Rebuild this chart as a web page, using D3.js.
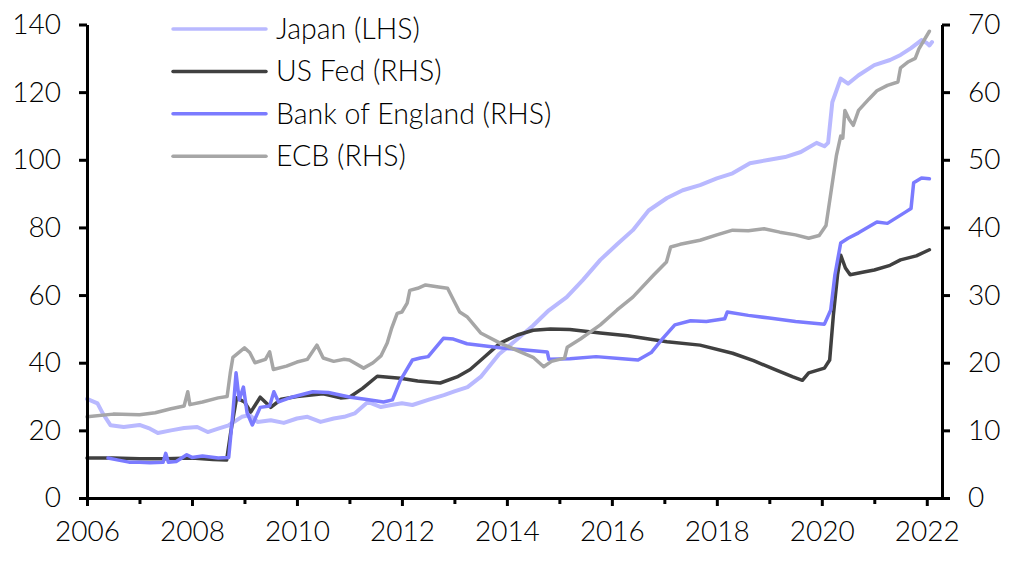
<!DOCTYPE html>
<html>
<head>
<meta charset="utf-8">
<script src="https://cdn.jsdelivr.net/npm/d3@7"></script>
<style>
  html, body { margin: 0; padding: 0; background: #fff; }
  svg { display: block; }
  text { font-family: Lato, "Open Sans", sans-serif; font-weight: 300; fill: #000; }
</style>
</head>
<body>
<svg id="chart" width="1024" height="567"></svg>
<script>
// ---- data (decimal year, value) ----
const seriesNames = ["Japan (LHS)", "US Fed (RHS)", "Bank of England (RHS)", "ECB (RHS)"];
const leftTicks = [0, 20, 40, 60, 80, 100, 120, 140];
const rightTicks = [0, 10, 20, 30, 40, 50, 60, 70];
const yearTicks = [2006,2007,2008,2009,2010,2011,2012,2013,2014,2015,2016,2017,2018,2019,2020,2021,2022];

const japan = [
[2006.0,29.3],[2006.2,28],[2006.3,25],[2006.45,21.5],[2006.7,21],[2007.0,21.6],[2007.2,20.5],[2007.35,19.2],
[2007.6,20],[2007.85,20.7],[2008.1,21],[2008.3,19.5],[2008.5,20.5],[2008.7,21.5],[2008.95,24],[2009.1,24.5],
[2009.25,22.5],[2009.5,23],[2009.75,22.2],[2010.0,23.5],[2010.2,24],[2010.45,22.5],[2010.7,23.5],[2010.9,24],
[2011.1,25],[2011.35,28.4],[2011.6,26.9],[2011.8,27.5],[2012.0,28],[2012.2,27.5],[2012.5,29],[2012.8,30.4],
[2013.0,31.5],[2013.25,32.8],[2013.5,35.8],[2013.85,42.5],[2014.2,47],[2014.5,51],[2014.8,55.5],[2015.14,59.4],
[2015.45,64.5],[2015.78,70.4],[2016.1,75],[2016.4,79.2],[2016.7,85],[2017.05,88.7],[2017.35,91],[2017.68,92.5],
[2018.0,94.5],[2018.3,96],[2018.63,99],[2019.0,100],[2019.3,100.8],[2019.6,102.3],[2019.9,105],[2020.05,104],
[2020.12,105],[2020.2,117],[2020.36,124],[2020.5,122.5],[2020.7,125],[2021.0,128],[2021.3,129.5],[2021.5,131],
[2021.7,133],[2021.9,135.4],[2022.0,134.5],[2022.05,133.8],[2022.1,134.8]
];
const fed = [
[2006.0,5.9],[2006.5,5.9],[2007.0,5.8],[2007.5,5.8],[2008.0,5.9],[2008.4,5.7],[2008.66,5.6],[2008.74,9.8],
[2008.85,14.8],[2009.0,14.2],[2009.12,12.7],[2009.3,14.9],[2009.5,13.4],[2009.7,14.6],[2010.0,15],[2010.5,15.4],
[2010.83,14.8],[2011.0,14.9],[2011.25,16.2],[2011.53,18],[2011.97,17.7],[2012.3,17.3],[2012.73,17],[2013.05,17.9],
[2013.3,19],[2013.55,20.7],[2013.87,22.9],[2014.2,24.1],[2014.5,24.8],[2014.83,25],[2015.2,24.9],[2015.78,24.4],
[2016.3,24],[2017.05,23.1],[2017.68,22.6],[2018.3,21.4],[2018.7,20.3],[2019.1,19],[2019.45,17.9],[2019.63,17.4],
[2019.75,18.5],[2020.05,19.2],[2020.15,20.4],[2020.22,27],[2020.3,33],[2020.36,35.9],[2020.45,34],[2020.54,33],
[2020.8,33.4],[2021.0,33.7],[2021.3,34.4],[2021.5,35.2],[2021.8,35.8],[2022.05,36.7]
];
const boe = [
[2006.4,5.9],[2006.6,5.6],[2006.8,5.3],[2007.0,5.3],[2007.2,5.2],[2007.45,5.3],[2007.5,6.6],[2007.55,5.3],
[2007.7,5.4],[2007.9,6.4],[2008.0,6],[2008.2,6.2],[2008.5,5.9],[2008.7,6],[2008.78,12.6],[2008.84,18.5],
[2008.9,14.5],[2008.98,16.4],[2009.05,12.6],[2009.15,10.8],[2009.3,13.4],[2009.48,13.6],[2009.56,15.7],[2009.65,14.2],
[2009.9,14.9],[2010.3,15.7],[2010.6,15.6],[2011.02,14.9],[2011.3,14.6],[2011.65,14.2],[2011.82,14.5],[2011.97,17.4],
[2012.2,20.4],[2012.35,20.7],[2012.5,20.9],[2012.79,23.6],[2012.98,23.5],[2013.24,22.8],[2013.87,22.2],[2014.3,21.9],
[2014.77,21.6],[2014.8,20.5],[2015.2,20.6],[2015.7,20.9],[2016.2,20.6],[2016.5,20.4],[2016.75,21.5],[2016.95,23.4],
[2017.2,25.6],[2017.5,26.2],[2017.8,26.1],[2018.15,26.5],[2018.2,27.5],[2018.6,27],[2019.0,26.6],[2019.5,26.1],
[2019.9,25.8],[2020.05,25.7],[2020.17,27.8],[2020.25,33],[2020.36,37.7],[2020.5,38.4],[2020.7,39.2],[2021.05,40.8],
[2021.25,40.6],[2021.6,42.3],[2021.7,42.8],[2021.75,46.6],[2021.9,47.3],[2022.05,47.2]
];
const ecb = [
[2006.0,12],[2006.5,12.4],[2007.0,12.3],[2007.3,12.6],[2007.6,13.2],[2007.85,13.6],[2007.92,15.7],[2007.96,13.8],
[2008.2,14.2],[2008.5,14.8],[2008.67,15],[2008.73,18.5],[2008.78,20.8],[2009.0,22.2],[2009.1,21.5],[2009.2,20],
[2009.4,20.5],[2009.48,21.6],[2009.55,19],[2009.8,19.5],[2010.0,20.1],[2010.2,20.5],[2010.38,22.6],[2010.5,20.7],
[2010.7,20.2],[2010.9,20.5],[2011.0,20.4],[2011.27,19.2],[2011.45,20],[2011.6,21],[2011.72,22.9],[2011.8,25],
[2011.91,27.3],[2012.0,27.5],[2012.1,28.8],[2012.15,30.7],[2012.3,31],[2012.45,31.5],[2012.7,31.2],[2012.87,31],
[2013.0,29],[2013.1,27.5],[2013.24,26.8],[2013.5,24.4],[2013.87,22.9],[2014.2,21.8],[2014.5,20.8],[2014.7,19.4],
[2014.85,20.2],[2015.0,20.5],[2015.1,20.7],[2015.15,22.3],[2015.4,23.5],[2015.78,25.6],[2016.1,27.8],[2016.4,29.7],
[2016.8,33],[2017.04,34.9],[2017.12,37.1],[2017.3,37.5],[2017.68,38.1],[2018.0,38.9],[2018.3,39.6],[2018.6,39.5],
[2018.9,39.8],[2019.2,39.3],[2019.5,38.9],[2019.75,38.4],[2019.95,38.8],[2020.08,40.3],[2020.18,45.5],[2020.28,50.7],
[2020.36,53.5],[2020.4,53.2],[2020.44,57.3],[2020.52,56],[2020.6,55.1],[2020.7,57.3],[2020.9,59],[2021.05,60.2],
[2021.25,61],[2021.45,61.5],[2021.5,63.6],[2021.65,64.5],[2021.78,65],[2021.85,66.4],[2022.05,69]
];

// ---- layout ----
const svg = d3.select("#chart");
const plotLeft = 87, plotRight = 942, plotTop = 24.5, plotBottom = 498;
const x = d3.scaleLinear().domain([2006, 2022.29]).range([plotLeft, plotRight]);
const yL = d3.scaleLinear().domain([0, 140]).range([plotBottom, plotTop]);
const yR = d3.scaleLinear().domain([0, 70]).range([plotBottom, plotTop]);

const colors = ["#b9b9ff", "#404040", "#7b7bff", "#a6a6a6"];
const widths = [4, 3.5, 3.5, 3.5];
const series = [
  {name: seriesNames[0], data: japan, y: yL, color: colors[0], w: widths[0]},
  {name: seriesNames[1], data: fed, y: yR, color: colors[1], w: widths[1]},
  {name: seriesNames[2], data: boe, y: yR, color: colors[2], w: widths[2]},
  {name: seriesNames[3], data: ecb, y: yR, color: colors[3], w: widths[3]}
];

// lines
series.forEach(s => {
  const line = d3.line().x(d => x(d[0])).y(d => s.y(d[1]));
  svg.append("path").datum(s.data)
    .attr("d", line).attr("fill", "none")
    .attr("stroke", s.color).attr("stroke-width", s.w)
    .attr("stroke-linejoin", "round").attr("stroke-linecap", "round");
});

// axes
const tickFont = 28, legendFont = 28.5;
function styleAxis(g) {
  g.select(".domain").attr("stroke", "#000").attr("stroke-width", 3);
  g.selectAll(".tick line").attr("stroke", "#000").attr("stroke-width", 3);
  g.selectAll(".tick text").style("font-size", tickFont + "px")
    .style("font-family", "Lato, sans-serif").style("font-weight", 300).attr("fill", "#000");
}
const gL = svg.append("g").attr("transform", `translate(${plotLeft},0)`)
  .call(d3.axisLeft(yL).tickValues(leftTicks).tickSize(8).tickSizeOuter(0).tickPadding(18));
styleAxis(gL);
const gR = svg.append("g").attr("transform", `translate(${plotRight},0)`)
  .call(d3.axisRight(yR).tickValues(rightTicks).tickSize(8).tickSizeOuter(0).tickPadding(18));
styleAxis(gR);
const gX = svg.append("g").attr("transform", `translate(0,${plotBottom})`)
  .call(d3.axisBottom(x).tickValues(yearTicks).tickSize(8).tickSizeOuter(0).tickPadding(15)
    .tickFormat(d => d % 2 === 0 ? d3.format("d")(d) : ""));
styleAxis(gX);
gX.selectAll(".tick").filter(d => d % 2 !== 0).select("line").attr("y2", 6);

// legend
const lg = svg.append("g");
series.forEach((s, i) => {
  const yy = 29 + i * 42.4;
  lg.append("line").attr("x1", 173).attr("x2", 266).attr("y1", yy).attr("y2", yy)
    .attr("stroke", s.color).attr("stroke-width", 3.5).attr("stroke-linecap", "round");
  lg.append("text").attr("x", 276).attr("y", yy).attr("dy", "0.35em")
    .style("font-size", legendFont + "px").text(s.name);
});
</script>
</body>
</html>
